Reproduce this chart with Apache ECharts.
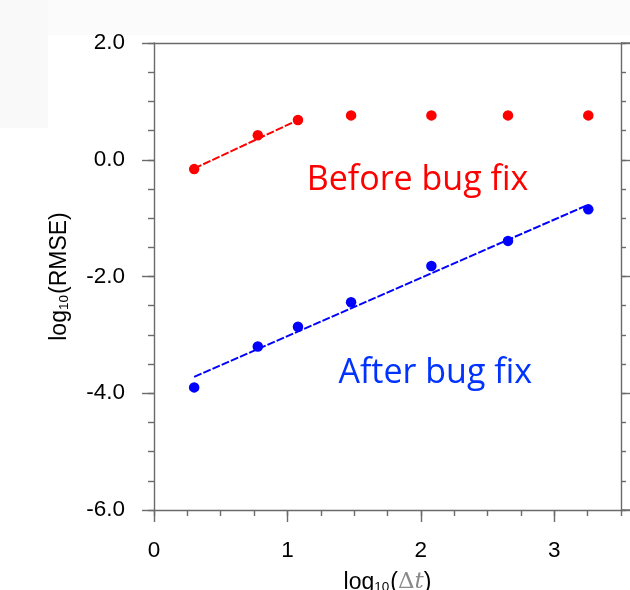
<!DOCTYPE html>
<html>
<head>
<meta charset="utf-8">
<script src="https://cdn.jsdelivr.net/npm/echarts@6/dist/echarts.min.js"></script>
<style>
  html, body { margin: 0; padding: 0; background: #fff; }
  #chart { width: 630px; height: 590px; }
</style>
</head>
<body>
<div id="chart"></div>
<script>
// ---- data ----
const logDt = [0.301, 0.778, 1.079, 1.477, 2.079, 2.653, 3.255];
const beforeFix = [-0.16, 0.42, 0.68, 0.76, 0.76, 0.76, 0.76];
const afterFix = [-3.90, -3.20, -2.86, -2.44, -1.82, -1.39, -0.85];
const beforeFitX = [0.301, 1.079];
const beforeFitY = [-0.15, 0.68];
const afterFitX = [0.301, 3.255];
const afterFitY = [-3.72, -0.77];
const xTickLabels = [0, 1, 2, 3];
const yTickLabels = [-6, -4, -2, 0, 2];
const beforeLabel = 'Before bug fix';
const afterLabel = 'After bug fix';
const beforeLabelAt = [1.145, -0.36];
const afterLabelAt = [1.382, -3.66];

const zip = (a, b) => a.map((v, i) => [v, b[i]]);

const AX = '#6a6a6a';
const FONT = 'Liberation Sans';
const X_MIN = 0, X_MAX = 3.5, Y_MIN = -6, Y_MAX = 2;

const chart = echarts.init(document.getElementById('chart'), null, { renderer: 'canvas' });

const lineStyle = { color: AX, width: 1.4 };

const option = {
  animation: false,
  backgroundColor: '#fff',
  graphic: [
    { type: 'rect', shape: { x: 0, y: 0, width: 630, height: 35 }, style: { fill: '#fbfbfb' }, z: -10, silent: true },
    { type: 'rect', shape: { x: 0, y: 0, width: 48, height: 128 }, style: { fill: '#f9f9f9' }, z: -10, silent: true },
    { type: 'line', shape: { x1: 621, y1: 43, x2: 630, y2: 43 }, style: { stroke: AX, lineWidth: 1.4 }, silent: true },
    { type: 'line', shape: { x1: 621, y1: 510, x2: 630, y2: 510 }, style: { stroke: AX, lineWidth: 1.4 }, silent: true }
  ],
  grid: { left: 154, top: 43, right: 9, bottom: 80, containLabel: false, outerBoundsMode: 'none' },
  xAxis: [
    {
      type: 'value', position: 'bottom', min: X_MIN, max: X_MAX, interval: 1,
      splitLine: { show: false },
      axisLine: { show: true, onZero: false, lineStyle },
      axisTick: { show: true, inside: false, length: 12, customValues: xTickLabels, lineStyle },
      axisLabel: { show: true, customValues: xTickLabels, margin: 29, fontSize: 22.5, fontFamily: FONT, color: '#000',
        formatter: v => String(v) },
      name: '{a|log}{s|10}{a|(}{g|Δ}{t|t}{a|)}',
      nameLocation: 'middle', nameGap: 61,
      nameTextStyle: {
        rich: {
          a: { fontSize: 23, fontFamily: FONT, color: '#000' },
          s: { fontSize: 13.5, fontFamily: FONT, color: '#000', verticalAlign: 'bottom', padding: [0, 1, 0, 0] },
          g: { fontSize: 23, fontFamily: 'DejaVu Serif', color: '#8a8a8a' },
          t: { fontSize: 23, fontFamily: 'DejaVu Serif', fontStyle: 'italic', color: '#8a8a8a' }
        }
      }
    },
    {
      type: 'value', position: 'bottom', min: X_MIN, max: X_MAX, interval: 0.25,
      splitLine: { show: false },
      axisLine: { show: false, onZero: false },
      axisTick: { show: true, inside: false, length: 6, lineStyle },
      axisLabel: { show: false }
    },
    {
      type: 'value', position: 'top', min: X_MIN, max: X_MAX, interval: 0.25,
      splitLine: { show: false },
      axisLine: { show: true, onZero: false, lineStyle },
      axisTick: { show: false },
      axisLabel: { show: false }
    }
  ],
  yAxis: [
    {
      type: 'value', position: 'left', min: Y_MIN, max: Y_MAX, interval: 2,
      splitLine: { show: false },
      axisLine: { show: true, onZero: false, lineStyle },
      axisTick: { show: true, inside: false, length: 12, lineStyle },
      axisLabel: { show: true, customValues: yTickLabels, margin: 29, fontSize: 22.5, fontFamily: FONT, color: '#000',
        formatter: v => v.toFixed(1) },
      name: '{a|log}{s|10}{a|(RMSE)}',
      nameLocation: 'middle', nameGap: 83, nameRotate: 90,
      nameTextStyle: {
        rich: {
          a: { fontSize: 23, fontFamily: FONT, color: '#000' },
          s: { fontSize: 13.5, fontFamily: FONT, color: '#000', verticalAlign: 'bottom', padding: [0, 1, 0, 0] }
        }
      }
    },
    {
      type: 'value', position: 'left', min: Y_MIN, max: Y_MAX, interval: 0.5,
      splitLine: { show: false },
      axisLine: { show: false, onZero: false },
      axisTick: { show: true, inside: false, length: 6, lineStyle },
      axisLabel: { show: false }
    },
    {
      type: 'value', position: 'right', min: Y_MIN, max: Y_MAX, interval: 2,
      splitLine: { show: false },
      axisLine: { show: true, onZero: false, lineStyle },
      axisTick: { show: true, inside: false, length: 9, lineStyle },
      axisLabel: { show: false }
    },
    {
      type: 'value', position: 'right', min: Y_MIN, max: Y_MAX, interval: 0.5,
      splitLine: { show: false },
      axisLine: { show: false, onZero: false },
      axisTick: { show: true, inside: false, length: 5, lineStyle },
      axisLabel: { show: false }
    }
  ],
  series: [
    {
      type: 'line', xAxisIndex: 0, yAxisIndex: 0,
      data: zip(beforeFitX, beforeFitY), symbol: 'none',
      lineStyle: { color: '#ff0000', width: 2, type: [8, 2] }, z: 2
    },
    {
      type: 'line', xAxisIndex: 0, yAxisIndex: 0,
      data: zip(afterFitX, afterFitY), symbol: 'none',
      lineStyle: { color: '#0000ff', width: 2, type: [8, 2] }, z: 2
    },
    {
      type: 'scatter', xAxisIndex: 0, yAxisIndex: 0,
      data: zip(logDt, beforeFix), symbolSize: 10.5,
      itemStyle: { color: '#ff0000', opacity: 1 }, z: 3
    },
    {
      type: 'scatter', xAxisIndex: 0, yAxisIndex: 0,
      data: zip(logDt, afterFix), symbolSize: 10.5,
      itemStyle: { color: '#0000ff', opacity: 1 }, z: 3
    },
    {
      type: 'scatter', xAxisIndex: 0, yAxisIndex: 0, symbolSize: 0, silent: true,
      itemStyle: { opacity: 1 },
      data: [
        { value: beforeLabelAt, label: { formatter: beforeLabel, color: '#ff0000' } },
        { value: afterLabelAt, label: { formatter: afterLabel, color: '#0033ff' } }
      ],
      label: { show: true, position: 'inside', align: 'left', verticalAlign: 'middle',
        fontSize: 34, fontFamily: 'Open Sans' },
      z: 4
    }
  ]
};
chart.setOption(option);
</script>
</body>
</html>
